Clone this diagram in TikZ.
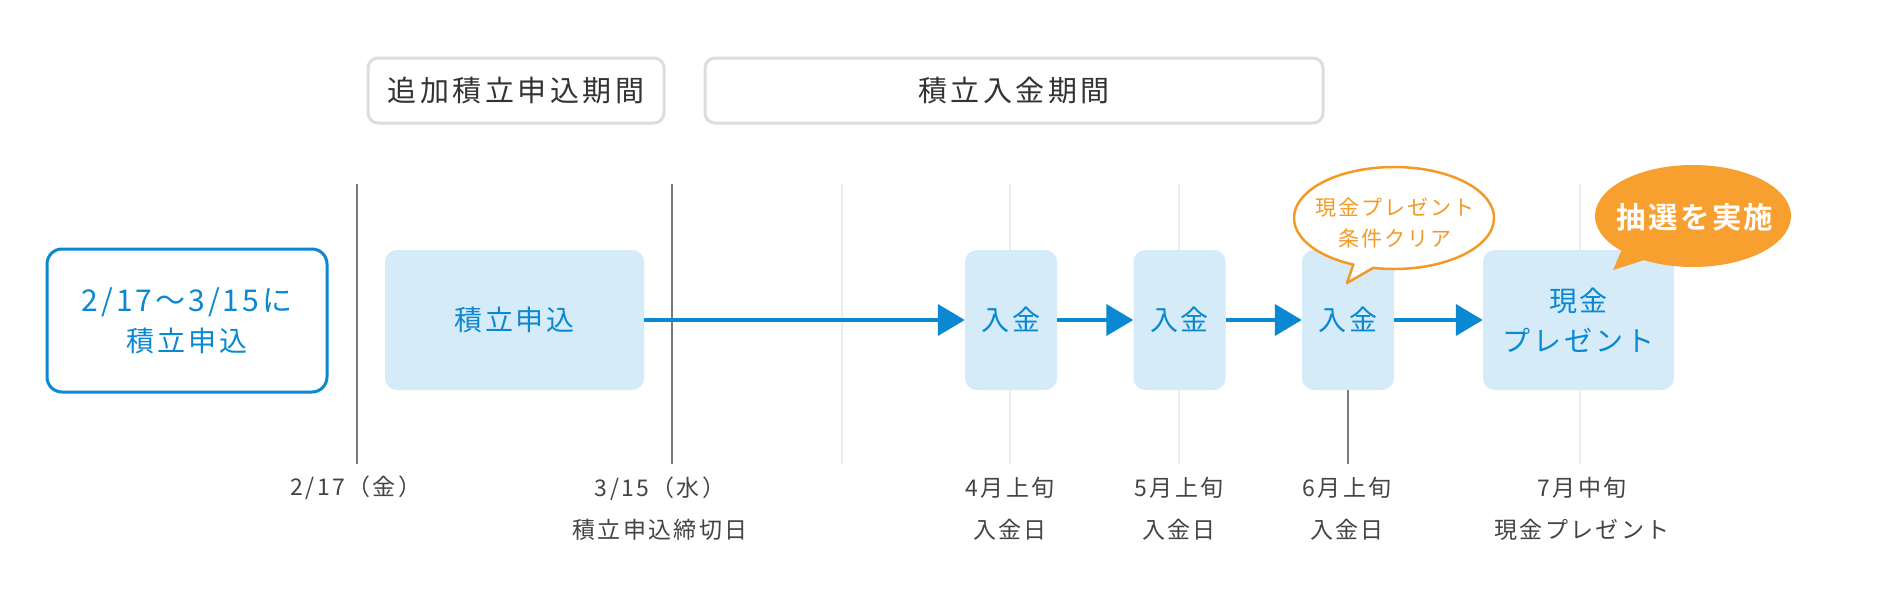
\documentclass[tikz,border=0pt]{standalone}
\usepackage{fontspec}
\setmainfont{Noto Sans CJK JP}
\newfontfamily\jp[LetterSpace=10]{Noto Sans CJK JP}
\newfontfamily\jph[LetterSpace=12]{Noto Sans CJK JP}
\newfontfamily\jpb[LetterSpace=8,BoldFont={* Bold}]{Noto Sans CJK JP}
\usetikzlibrary{arrows.meta}
\definecolor{blu}{HTML}{0A88D2}
\definecolor{lblu}{HTML}{D6EBF8}
\definecolor{org}{HTML}{F7A030}
\definecolor{orgline}{HTML}{F39A26}
\definecolor{txt}{HTML}{333333}
\definecolor{lbl}{HTML}{444444}
\definecolor{hdr}{HTML}{DDDDDD}
\definecolor{dline}{HTML}{7A7A7A}
\definecolor{lline}{HTML}{EDEDED}
\begin{document}
\begin{tikzpicture}[x=1pt,y=-1pt,
  hdrbox/.style={draw=hdr,line width=3pt,rounded corners=10pt,fill=white,inner sep=0pt,
    minimum height=65pt,text=txt,font=\jph\fontsize{29}{34}\selectfont},
  stagebox/.style={fill=lblu,rounded corners=12pt,inner sep=0pt,minimum height=140pt,
    text=blu,align=center,font=\jp\fontsize{28}{40}\selectfont},
  lbltext/.style={text=lbl,align=center,inner sep=0pt,font=\jp\fontsize{23}{42}\selectfont},
  arr/.style={line width=4pt,draw=blu,-{Triangle[length=27pt,width=31pt]}},
  darkline/.style={draw=dline,line width=1.3pt},
  lightline/.style={draw=lline,line width=1.3pt}]
\useasboundingbox (0,0) rectangle (1880,600);
\fill[white] (0,0) rectangle (1880,600);

% vertical time lines
\foreach \xx in {842,1010,1179,1580}{\draw[lightline] (\xx,184) -- (\xx,464);}
\foreach \xx in {357,672,1348}{\draw[darkline] (\xx,184) -- (\xx,464);}

% headers
\node[hdrbox,minimum width=296pt] (hdrA) at (516,90.5) {追加積立申込期間};
\node[hdrbox,minimum width=618pt] (hdrB) at (1014,90.5) {積立入金期間};

% left box
\node[draw=blu,line width=3pt,rounded corners=15pt,fill=white,inner sep=0pt,
  minimum width=280pt,minimum height=143pt,text=blu,align=center,
  font=\jp\fontsize{28}{40}\selectfont] (left) at (187,320.5)
  {{\fontsize{30}{40}\selectfont 2/17～3/15に}\\積立申込};

% stage boxes
\node[stagebox,minimum width=259pt] (apply) at (514.5,320) {積立申込};
\node[stagebox,minimum width=92pt] (in1) at (1011,320) {入金};
\node[stagebox,minimum width=92pt] (in2) at (1179.5,320) {入金};
\node[stagebox,minimum width=92pt] (in3) at (1348,320) {入金};
\node[stagebox,minimum width=191pt] (gift) at (1578.5,320) {現金\\プレゼント};

% arrows
\draw[arr] (apply.east) -- (in1.west);
\draw[arr] (in1.east) -- (in2.west);
\draw[arr] (in2.east) -- (in3.west);
\draw[arr] (in3.east) -- (gift.west);

% bubble 1 (outline)
\coordinate (b1c) at (1394,218);
\coordinate (b1tip) at (1347,283);
\draw[draw=orgline,line width=2.5pt,fill=white,line join=round]
  (b1c) ++(114:100 and 51) arc[start angle=114,end angle=462,x radius=100,y radius=51]
  -- (b1tip) -- cycle;
\node[text=orgline,align=center,inner sep=0pt,font=\jp\fontsize{21}{31}\selectfont]
  (b1t) at (1395,223.5) {現金プレゼント\\条件クリア};

% bubble 2 (filled)
\coordinate (b2c) at (1693,216);
\coordinate (b2tip) at (1613,270);
\fill[org]
  (b2c) ++(137:98 and 51) arc[start angle=137,end angle=480,x radius=98,y radius=51]
  -- (b2tip) -- cycle;
\node[text=white,inner sep=0pt,font=\jpb\bfseries\fontsize{29.5}{34}\selectfont]
  (b2t) at (1695,217) {抽選を実施};

% bottom labels
\node[lbltext] (l1) at (356,488) {2/17（金）};
\node[lbltext] (l2) at (660,509) {3/15（水）\\積立申込締切日};
\node[lbltext] (l3) at (1010,509) {4月上旬\\入金日};
\node[lbltext] (l4) at (1179,509) {5月上旬\\入金日};
\node[lbltext] (l5) at (1347,509) {6月上旬\\入金日};
\node[lbltext] (l6) at (1582,509) {7月中旬\\現金プレゼント};
\end{tikzpicture}
\end{document}
